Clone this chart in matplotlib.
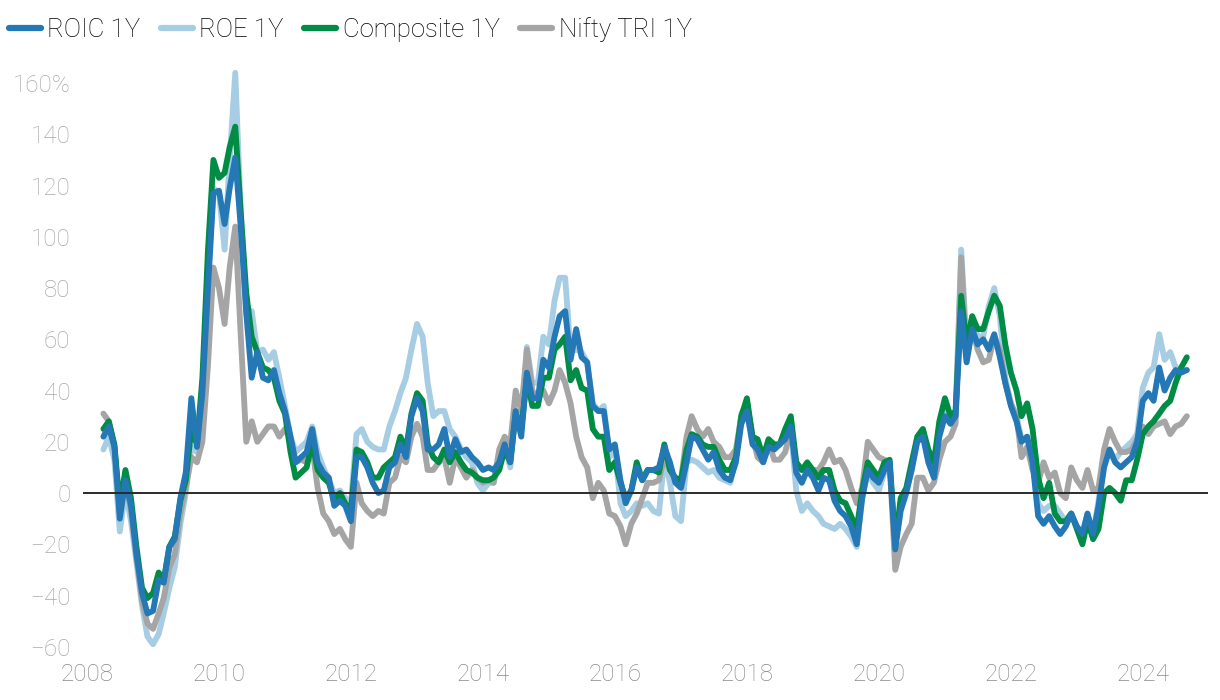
"""1-year rolling returns: ROIC / ROE / Composite portfolios vs Nifty TRI."""

import matplotlib

matplotlib.use("Agg")

import matplotlib.pyplot as plt  # noqa: E402
import matplotlib.dates as mdates  # noqa: E402
import pandas as pd  # noqa: E402

plt.rcParams["font.family"] = ["Roboto", "DejaVu Sans"]

# Monthly observations, Apr 2008 .. Sep 2024 (values in %)
DATES = pd.date_range("2008-04-01", periods=198, freq="MS")

ROIC_1Y = [
    22, 26, 18, -10, 5, -5, -24, -39, -47,
    -46, -34, -35, -21, -18, -2, 8, 37, 18, 39, 80, 117,
    118, 105, 119, 131, 104, 70, 45, 55, 45, 44, 48, 39,
    32, 22, 12, 14, 16, 25, 12, 8, 6, -5, -3, -5,
    -11, 14, 14, 10, 4, 0, 1, 10, 12, 19, 14, 30,
    37, 32, 17, 17, 19, 25, 14, 21, 16, 17, 14, 12,
    9, 10, 9, 12, 19, 12, 32, 22, 47, 37, 37, 52,
    49, 61, 69, 71, 52, 64, 53, 51, 34, 32, 32, 17,
    19, 5, -4, 1, 10, 5, 9, 9, 10, 18, 12, 4,
    2, 12, 22, 21, 17, 13, 16, 9, 6, 5, 12, 27,
    32, 19, 17, 12, 18, 17, 19, 21, 26, 8, 4, 9,
    6, 1, 6, 5, -3, -7, -9, -13, -20, -2, 9, 6,
    4, 9, 12, -22, -7, 0, 9, 20, 22, 12, 6, 22,
    30, 27, 30, 71, 51, 64, 58, 60, 56, 62, 53, 43,
    34, 28, 20, 22, 12, -9, -12, -9, -13, -16, -13, -8,
    -13, -16, -8, -16, -5, 10, 17, 12, 10, 12, 14, 20,
    36, 39, 36, 49, 40, 45, 48, 47, 48,
]

ROE_1Y = [
    17, 22, 13, -15, 1, -11, -27, -44, -56,
    -59, -55, -47, -37, -29, -12, 0, 18, 16, 32, 82, 119,
    117, 95, 130, 164, 110, 70, 71, 55, 56, 52, 55, 45,
    34, 22, 16, 18, 20, 26, 16, 10, 5, 0, 1, -2,
    -4, 23, 25, 20, 18, 17, 17, 26, 32, 39, 45, 56,
    66, 61, 43, 30, 32, 32, 25, 22, 17, 14, 12, 4,
    1, 4, 4, 12, 19, 10, 32, 25, 57, 43, 43, 61,
    58, 75, 84, 84, 55, 56, 55, 51, 35, 32, 34, 14,
    17, -4, -9, -7, -4, -5, -4, -7, -8, 14, 4, -9,
    -11, 12, 13, 12, 10, 8, 9, 6, 5, 4, 14, 31,
    35, 21, 18, 14, 21, 17, 19, 22, 25, 1, -7, -4,
    -7, -9, -12, -13, -14, -12, -14, -17, -21, -2, 8, 4,
    1, 8, 9, -20, -4, 1, 9, 22, 25, 14, 8, 27,
    32, 28, 32, 95, 58, 69, 61, 61, 73, 80, 69, 45,
    35, 30, 21, 22, 12, -4, -7, -5, -5, -8, -11, -8,
    -13, -16, -8, -16, -3, 13, 17, 13, 16, 18, 20, 23,
    41, 47, 49, 62, 52, 55, 49, 48, 48,
]

COMPOSITE_1Y = [
    25, 28, 19, -5, 9, -2, -21, -37, -41,
    -39, -31, -34, -21, -17, -3, 5, 25, 19, 45, 95, 130,
    123, 125, 135, 143, 110, 78, 61, 55, 49, 48, 45, 36,
    31, 16, 6, 8, 10, 20, 9, 6, 4, -3, 0, -4,
    -7, 17, 16, 12, 6, 6, 10, 12, 14, 22, 17, 31,
    39, 36, 19, 14, 12, 17, 12, 16, 12, 9, 8, 6,
    5, 5, 6, 9, 17, 12, 31, 25, 45, 34, 34, 45,
    45, 56, 58, 61, 44, 48, 41, 40, 25, 22, 22, 9,
    12, 4, -2, 1, 12, 5, 9, 9, 8, 19, 9, 6,
    5, 17, 23, 22, 19, 18, 18, 13, 9, 9, 14, 30,
    37, 22, 21, 14, 21, 19, 19, 25, 30, 12, 9, 12,
    9, 6, 9, 9, 1, -3, -4, -9, -14, 1, 12, 9,
    6, 12, 13, -20, -2, 2, 12, 22, 25, 17, 12, 28,
    37, 30, 32, 77, 58, 69, 64, 64, 71, 77, 73, 58,
    47, 40, 30, 35, 25, 6, -2, 4, -8, -11, -11, -8,
    -14, -20, -11, -18, -14, 0, 2, 0, -3, 5, 5, 13,
    23, 26, 28, 31, 34, 36, 43, 49, 53,
]

NIFTY_TRI_1Y = [
    31, 28, 18, -8, 5, -7, -25, -42, -51,
    -53, -47, -41, -29, -24, -8, 2, 14, 12, 20, 50, 88,
    80, 66, 88, 104, 62, 20, 28, 20, 23, 26, 26, 22,
    25, 21, 12, 13, 12, 18, 2, -8, -11, -16, -14, -18,
    -21, 4, -4, -7, -9, -7, -8, 4, 6, 14, 12, 22,
    27, 22, 9, 9, 12, 14, 4, 14, 10, 6, 9, 6,
    4, 5, 4, 17, 22, 19, 40, 32, 56, 40, 37, 40,
    35, 40, 48, 43, 35, 22, 14, 10, -2, 4, 1, -8,
    -9, -13, -20, -12, -8, -2, 4, 4, 5, 14, 9, 5,
    5, 22, 30, 25, 22, 25, 20, 18, 14, 14, 17, 30,
    35, 22, 14, 12, 20, 13, 13, 16, 25, 12, 9, 9,
    9, 9, 12, 17, 12, 13, 9, 2, -4, 2, 20, 17,
    14, 13, 12, -30, -21, -16, -12, 6, 6, 1, 4, 13,
    20, 22, 27, 92, 53, 64, 56, 51, 52, 61, 56, 43,
    35, 30, 14, 18, 9, 4, 12, 6, 8, 0, -2, 10,
    5, 2, 9, 1, 2, 17, 25, 20, 16, 16, 17, 21,
    26, 23, 26, 27, 28, 23, 26, 27, 30,
]

YEAR_TICKS = list(range(2008, 2025, 2))
Y_TICKS = list(range(-60, 161, 20))

COLORS = {
    "ROIC 1Y": "#2378b5",
    "ROE 1Y": "#a6cde3",
    "Composite 1Y": "#008c45",
    "Nifty TRI 1Y": "#a5a5a5",
}
LINE_WIDTH = 4.2


def _y_label(v: int) -> str:
    if v == 160:
        return "160%"
    return f"{v}".replace("-", "\u2212")


fig = plt.figure(figsize=(12.2, 7.0), dpi=100)
ax = fig.add_axes([0.068, 0.0643, 0.922, 0.8357])

# draw order: ROE at the back, ROIC on top
series = [
    ("ROE 1Y", ROE_1Y, 2),
    ("Nifty TRI 1Y", NIFTY_TRI_1Y, 3),
    ("Composite 1Y", COMPOSITE_1Y, 4),
    ("ROIC 1Y", ROIC_1Y, 5),
]
handles = {}
for name, vals, z in series:
    (ln,) = ax.plot(DATES, vals, color=COLORS[name], lw=LINE_WIDTH,
                    solid_joinstyle="round", solid_capstyle="round",
                    zorder=z, label=name, clip_on=False)
    handles[name] = ln

ax.axhline(0, color="#2b2b2b", lw=1.4, zorder=6)

ax.set_xlim(pd.Timestamp("2007-12-10"), pd.Timestamp("2024-12-26"))
ax.set_ylim(-63.2, 165.1)

ax.set_xticks([pd.Timestamp(f"{y}-01-01") for y in YEAR_TICKS])
ax.xaxis.set_major_formatter(mdates.DateFormatter("%Y"))
ax.set_yticks(Y_TICKS)
ax.set_yticklabels([_y_label(v) for v in Y_TICKS])

ax.tick_params(axis="both", length=0)
ax.tick_params(axis="y", pad=9, labelsize=17.5, labelcolor="#a8a8a8")
ax.tick_params(axis="x", pad=6, labelsize=17.5, labelcolor="#8a8a8a")
for lab in ax.get_xticklabels() + ax.get_yticklabels():
    lab.set_fontweight("light")

for sp in ax.spines.values():
    sp.set_visible(False)

order = ["ROIC 1Y", "ROE 1Y", "Composite 1Y", "Nifty TRI 1Y"]
leg = fig.legend(
    [handles[n] for n in order], order,
    loc="center left", bbox_to_anchor=(0.007, 0.958),
    ncol=4, frameon=False, fontsize=18.5,
    handlelength=1.25, handletextpad=0.25, columnspacing=0.8,
    borderpad=0, borderaxespad=0,
)
for t in leg.get_texts():
    t.set_fontweight("light")
for h in leg.get_lines():
    h.set_linewidth(4.5)

fig.savefig("out.png", dpi=100)
plt.close(fig)
